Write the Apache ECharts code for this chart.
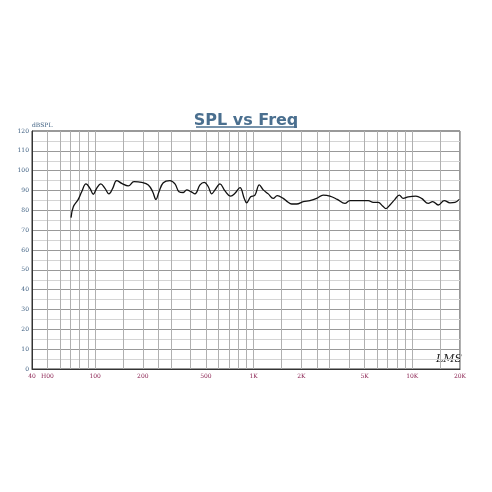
<!DOCTYPE html>
<html><head><meta charset="utf-8">
<script src="https://cdn.jsdelivr.net/npm/echarts@6/dist/echarts.min.js"></script>
<style>html,body{margin:0;padding:0;background:#fff}#c{width:492px;height:492px}</style>
</head><body><div id="c"></div>
<script>
const freqs = [70.5,72.9,78.3,82.3,87.6,92.8,97.4,102.3,108.5,115.4,122.3,129.1,136.8,147.1,161.9,175.9,196.7,216.5,230.7,242.0,252.9,269.1,296.6,318.9,338.1,359.8,377.9,402.3,426.4,458.6,488.1,517.3,543.6,570.2,612.9,659.1,715.9,762.5,819.5,872.1,903.1,957.0,1018.7,1085,1149,1236,1328,1408,1536,1628,1736,1866,2053,2263,2495,2745,3025,3365,3762,4046,4676,5278,5676,6101,6504,6824,7232,7776,8278,8774,9431,10546,11459,12613,13446,14584,15912,17287,18580,19777];
const spl = [76.3,81.8,85.5,89.4,93.3,91.1,88.1,91.1,93.3,91.1,88.3,91.1,95.0,93.6,92.3,94.5,94.1,92.8,89.4,85.5,89.4,93.9,95.0,93.3,89.4,89.0,90.3,89.4,88.3,92.8,94.1,91.9,88.3,90.3,93.3,89.8,87.2,88.6,91.4,86.0,83.8,86.8,87.7,92.8,90.3,88.3,86.0,87.4,86.0,84.4,83.2,83.2,84.4,84.9,86.0,87.7,87.2,85.5,83.5,84.9,84.9,84.9,84.0,84.0,82.2,80.9,82.7,85.5,87.7,86.0,86.8,87.2,86.0,83.5,84.4,82.7,84.9,83.8,84.0,85.5];
const gridFreqs = [40,50,60,70,80,90,100,150,200,250,300,400,500,600,700,800,900,1000,1500,2000,2500,3000,4000,5000,6000,7000,8000,9000,10000,15000,20000];
const xLabelValues = [40,50,100,200,500,1000,2000,5000,10000,20000];
const xLabelTexts = ['40','H00','100','200','500','1K','2K','5K','10K','20K'];

const chart = echarts.init(document.getElementById('c'), null, {renderer:'canvas'});
chart.setOption({
  backgroundColor:'#fff',
  animation:false,
  title:{text:'SPL vs Freq', left:'center', top:108,
    textStyle:{color:'#4a6f8f', fontSize:16, fontWeight:'bold', fontFamily:'DejaVu Sans'}},
  graphic:[
    {type:'line', shape:{x1:196,y1:127,x2:297,y2:127}, style:{stroke:'#4a6f8f', lineWidth:1.5}},
    {type:'text', left:436, top:354, style:{text:'LMS', font:'italic 11px "DejaVu Serif"', fill:'#222'}}
  ],
  grid:{left:32, right:32, top:131, bottom:123, show:true, borderColor:'#333', borderWidth:1},
  xAxis:{type:'log', logBase:10, min:40, max:20000,
    axisLine:{show:true, lineStyle:{color:'#333', width:1}},
    axisTick:{show:false, customValues:gridFreqs},
    axisLabel:{customValues:xLabelValues, color:'#8a2050', fontSize:6, fontFamily:'DejaVu Serif', margin:4,
      formatter:function(v){const i=xLabelValues.findIndex(x=>Math.abs(x-v)<1e-6*x); return i>=0?xLabelTexts[i]:'';}},
    splitLine:{show:true, lineStyle:{color:'#b0b0b0', width:1}}
  },
  yAxis:{type:'value', min:0, max:120, interval:10, name:'dBSPL',
    nameLocation:'end', nameGap:3,
    nameTextStyle:{color:'#3d5f80', fontSize:6, fontFamily:'DejaVu Serif', align:'left'},
    axisLine:{show:true, lineStyle:{color:'#333'}},
    axisTick:{show:false},
    axisLabel:{color:'#3d5f80', fontSize:6, fontFamily:'DejaVu Serif', margin:3},
    splitLine:{show:true, lineStyle:{color:'#999', width:1}},
    minorTick:{show:false, splitNumber:2},
    minorSplitLine:{show:true, lineStyle:{color:'#d4d4d4', width:1}}
  },
  series:[{type:'line', data:freqs.map((f,i)=>[f,spl[i]]), showSymbol:false, smooth:0.4,
    lineStyle:{color:'#111', width:1.3}}]
});
</script></body></html>
